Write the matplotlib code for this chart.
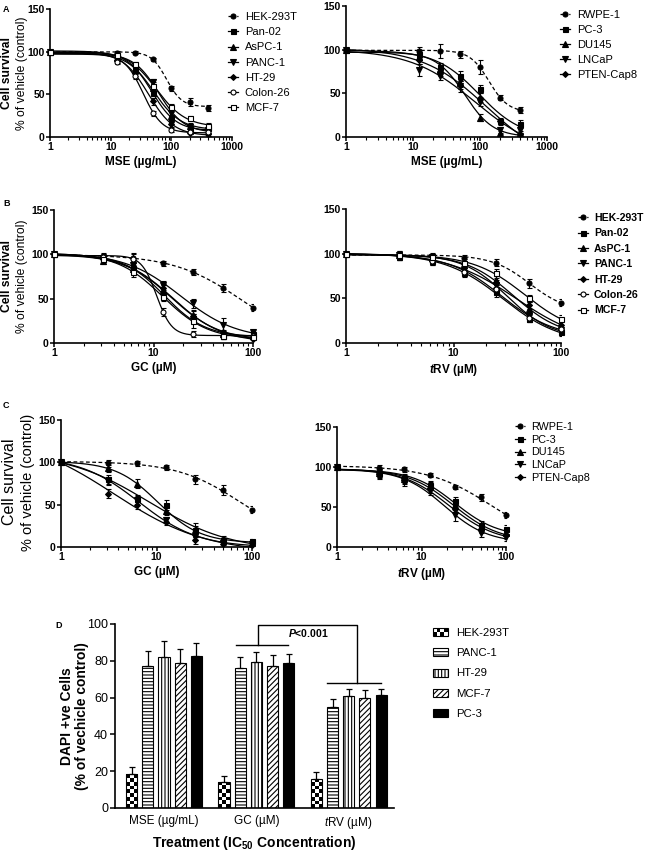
import numpy as np
import matplotlib
matplotlib.use('Agg')
import matplotlib.pyplot as plt
from matplotlib.lines import Line2D
from matplotlib.patches import Patch, Rectangle
from matplotlib.legend_handler import HandlerBase
from matplotlib.ticker import LogLocator, NullFormatter, FixedLocator, FixedFormatter

plt.rcParams.update({
    'font.family': ['Liberation Sans', 'DejaVu Sans'],
    'mathtext.fontset': 'custom',
    'mathtext.rm': 'Liberation Sans',
    'mathtext.it': 'Liberation Sans:italic',
    'mathtext.bf': 'Liberation Sans:bold',
    'mathtext.bfit': 'Liberation Sans:italic:bold',
    'hatch.linewidth': 0.8,
    'axes.linewidth': 1.2,
})

W, H = 650, 850

# ---------------- data ----------------
mse_doses = [1, 12.5, 25, 50, 100, 200, 400]
uM_doses = [1, 3.125, 6.25, 12.5, 25, 50, 100]

panc_lines = ['HEK-293T', 'Pan-02', 'AsPC-1', 'PANC-1', 'HT-29', 'Colon-26', 'MCF-7']
prost_lines = ['RWPE-1', 'PC-3', 'DU145', 'LNCaP', 'PTEN-Cap8']

# Panel A left: MSE on pancreatic/colon/breast lines
A1_mean = {
    'HEK-293T': [100, 99, 99, 91, 57, 41, 34],
    'Pan-02':   [100, 95, 80, 52, 22, 10, 10],
    'AsPC-1':   [100, 92, 78, 58, 25, 13, 12],
    'PANC-1':   [100, 94, 83, 65, 28, 12, 8],
    'HT-29':    [100, 90, 75, 42, 15, 5, 3],
    'Colon-26': [100, 88, 72, 28, 8, 6, 6],
    'MCF-7':    [100, 96, 85, 60, 35, 22, 13],
}
A1_err = {
    'HEK-293T': [0, 2, 2, 2, 3, 5, 4],
    'Pan-02':   [0, 3, 4, 4, 4, 3, 3],
    'AsPC-1':   [0, 3, 4, 4, 4, 3, 3],
    'PANC-1':   [0, 3, 3, 3, 4, 3, 3],
    'HT-29':    [0, 3, 4, 4, 3, 2, 2],
    'Colon-26': [0, 3, 4, 3, 2, 2, 2],
    'MCF-7':    [0, 3, 3, 4, 4, 3, 3],
}
# Panel A right: MSE on prostate lines
A2_mean = {
    'RWPE-1':    [100, 99, 99, 95, 80, 45, 31],
    'PC-3':      [100, 95, 80, 70, 55, 18, 15],
    'DU145':     [100, 92, 78, 62, 22, 5, 5],
    'LNCaP':     [100, 77, 70, 58, 40, 8, 8],
    'PTEN-Cap8': [100, 88, 75, 60, 45, 18, 3],
}
A2_err = {
    'RWPE-1':    [0, 4, 8, 4, 8, 3, 3],
    'PC-3':      [0, 5, 5, 6, 5, 4, 5],
    'DU145':     [0, 3, 4, 5, 4, 2, 2],
    'LNCaP':     [0, 7, 5, 6, 5, 3, 3],
    'PTEN-Cap8': [0, 4, 5, 5, 5, 3, 2],
}
# Panel B left: GC
B1_mean = {
    'HEK-293T': [100, 97, 96, 90, 80, 62, 40],
    'Pan-02':   [100, 95, 85, 53, 28, 8, 10],
    'AsPC-1':   [100, 93, 83, 60, 32, 10, 8],
    'PANC-1':   [100, 96, 88, 65, 45, 20, 12],
    'HT-29':    [100, 95, 82, 62, 30, 12, 5],
    'Colon-26': [100, 97, 95, 35, 10, 8, 8],
    'MCF-7':    [100, 95, 80, 52, 25, 8, 7],
}
B1_err = {
    'HEK-293T': [0, 3, 5, 3, 3, 5, 4],
    'Pan-02':   [0, 4, 5, 5, 5, 3, 3],
    'AsPC-1':   [0, 4, 5, 5, 5, 3, 3],
    'PANC-1':   [0, 4, 5, 5, 5, 8, 3],
    'HT-29':    [0, 4, 5, 5, 6, 3, 2],
    'Colon-26': [0, 4, 5, 5, 3, 2, 2],
    'MCF-7':    [0, 4, 6, 5, 8, 3, 2],
}
# Panel B right: tRV
B2_mean = {
    'HEK-293T': [100, 99, 97, 95, 90, 67, 45],
    'Pan-02':   [100, 97, 92, 78, 57, 27, 12],
    'AsPC-1':   [100, 98, 95, 88, 70, 38, 18],
    'PANC-1':   [100, 98, 96, 86, 65, 30, 14],
    'HT-29':    [100, 97, 93, 84, 62, 42, 20],
    'Colon-26': [100, 98, 92, 80, 60, 28, 16],
    'MCF-7':    [100, 98, 96, 90, 78, 50, 27],
}
B2_err = {
    'HEK-293T': [0, 3, 3, 3, 4, 5, 4],
    'Pan-02':   [0, 4, 5, 4, 5, 4, 4],
    'AsPC-1':   [0, 4, 5, 4, 5, 4, 4],
    'PANC-1':   [0, 5, 5, 4, 5, 4, 5],
    'HT-29':    [0, 4, 5, 4, 5, 4, 4],
    'Colon-26': [0, 4, 5, 4, 5, 4, 4],
    'MCF-7':    [0, 5, 4, 4, 5, 4, 4],
}
# Panel C left: GC on prostate lines
C1_mean = {
    'RWPE-1':    [100, 99, 99, 94, 80, 67, 44],
    'PC-3':      [100, 80, 57, 50, 20, 8, 7],
    'DU145':     [100, 93, 75, 43, 20, 10, 5],
    'LNCaP':     [100, 78, 55, 32, 12, 5, 3],
    'PTEN-Cap8': [100, 63, 50, 30, 8, 4, 2],
}
C1_err = {
    'RWPE-1':    [0, 4, 3, 3, 5, 6, 4],
    'PC-3':      [0, 5, 4, 6, 8, 3, 3],
    'DU145':     [0, 4, 5, 5, 5, 3, 2],
    'LNCaP':     [0, 5, 5, 4, 4, 2, 2],
    'PTEN-Cap8': [0, 5, 5, 4, 4, 2, 2],
}
# Panel C right: tRV on prostate lines
C2_mean = {
    'RWPE-1':    [100, 99, 97, 90, 75, 62, 40],
    'PC-3':      [100, 93, 86, 78, 58, 28, 22],
    'DU145':     [100, 92, 85, 76, 52, 25, 17],
    'LNCaP':     [100, 90, 82, 70, 40, 17, 12],
    'PTEN-Cap8': [100, 91, 84, 72, 47, 22, 15],
}
C2_err = {
    'RWPE-1':    [0, 3, 3, 3, 3, 4, 4],
    'PC-3':      [0, 5, 5, 5, 5, 5, 5],
    'DU145':     [0, 5, 5, 5, 5, 5, 5],
    'LNCaP':     [0, 5, 6, 5, 8, 5, 5],
    'PTEN-Cap8': [0, 5, 5, 5, 5, 5, 5],
}

# Panel D: DAPI +ve cells
D_groups = ['MSE (µg/mL)', 'GC (µM)', r'$\mathit{t}$RV (µM)']
D_cells = ['HEK-293T', 'PANC-1', 'HT-29', 'MCF-7', 'PC-3']
D_hek = [18.7, 14.3, 16.0]
D_panc1 = [77.0, 76.0, 55.0]
D_ht29 = [82.0, 79.3, 60.8]
D_mcf7 = [79.0, 77.1, 59.9]
D_pc3 = [82.8, 78.6, 61.2]
D_hek_err = [3.7, 3.3, 3.6]
D_panc1_err = [8.5, 5.8, 4.0]
D_ht29_err = [8.5, 5.5, 4.0]
D_mcf7_err = [7.5, 6.0, 4.0]
D_pc3_err = [7.0, 5.0, 3.5]

# marker styles: (marker, filled, dashed)
styles = {
    'HEK-293T': ('o', True, True), 'Pan-02': ('s', True, False), 'AsPC-1': ('^', True, False),
    'PANC-1': ('v', True, False), 'HT-29': ('D', True, False), 'Colon-26': ('o', False, False),
    'MCF-7': ('s', False, False),
    'RWPE-1': ('o', True, True), 'PC-3': ('s', True, False), 'DU145': ('^', True, False),
    'LNCaP': ('v', True, False), 'PTEN-Cap8': ('D', True, False),
}
msize = {'o': 3.6, 's': 3.6, '^': 4.0, 'v': 4.0, 'D': 3.0}


# ---------------- helpers ----------------
def fit_curve(x, y, xfine):
    lx = np.log10(np.asarray(x, float))
    y = np.asarray(y, float)
    c = np.linspace(lx.min(), lx.max() + 0.6, 301)[:, None, None]
    h = np.linspace(0.3, 10, 195)[None, :, None]
    f = 1.0 / (1.0 + 10 ** ((lx[None, None, :] - c) * h))
    u, v = 1 - f, f
    uu = (u * u).sum(-1); vv = (v * v).sum(-1); uv = (u * v).sum(-1)
    uy = (u * y).sum(-1); vy = (v * y).sum(-1)
    det = uu * vv - uv ** 2
    det = np.where(np.abs(det) < 1e-9, np.nan, det)
    b = (uy * vv - vy * uv) / det
    t = (vy * uu - uy * uv) / det
    pred = b[..., None] * u + t[..., None] * v
    sse = ((pred - y) ** 2).sum(-1)
    sse = np.where(np.isnan(sse), np.inf, sse)
    i, j = np.unravel_index(np.argmin(sse), sse.shape)
    ff = 1.0 / (1.0 + 10 ** ((np.log10(xfine) - c[i, 0, 0]) * h[0, j, 0]))
    return b[i, j] + (t[i, j] - b[i, j]) * ff


fig = plt.figure(figsize=(W / 100, H / 100), dpi=100)


def add_ax(l, t, r, b):
    return fig.add_axes([l / W, 1 - b / H, (r - l) / W, (b - t) / H])


def fx(x):
    return x / W


def fy(y):
    return 1 - y / H


def curve_panel(rect, doses, means, errs, names, xmax, xticks, xlabel, tick_fs=7.5):
    ax = add_ax(*rect)
    xf = np.logspace(0, np.log10(max(doses)), 300)
    for name in names:
        mk, filled, dashed = styles[name]
        m = means[name]
        ax.plot(xf, fit_curve(doses, m, xf), color='k', lw=0.9,
                ls=(0, (3, 2)) if dashed else '-', zorder=2)
        ax.errorbar(doses, m, yerr=errs[name], fmt='none', ecolor='k',
                    elinewidth=0.8, capsize=1.8, capthick=0.8, zorder=3)
        ax.plot(doses, m, ls='none', marker=mk, ms=msize[mk],
                mfc='k' if filled else 'white', mec='k', mew=0.8, zorder=4, clip_on=False)
    ax.set_xscale('log')
    ax.set_xlim(1, xmax)
    ax.set_ylim(0, 150)
    for s in ('top', 'right'):
        ax.spines[s].set_visible(False)
    ax.xaxis.set_major_locator(FixedLocator(xticks))
    ax.xaxis.set_major_formatter(FixedFormatter([str(int(v)) for v in xticks]))
    ax.xaxis.set_minor_locator(LogLocator(base=10, subs=np.arange(2, 10), numticks=20))
    ax.xaxis.set_minor_formatter(NullFormatter())
    ax.set_yticks([0, 50, 100, 150])
    ax.tick_params(axis='both', which='major', direction='out', length=2.8, width=1.1,
                   labelsize=tick_fs, pad=1.0)
    ax.tick_params(axis='x', which='minor', direction='out', length=2, width=0.8)
    for lb in ax.get_xticklabels() + ax.get_yticklabels():
        lb.set_fontweight('bold')
    ax.set_xlabel(xlabel, fontsize=8.5, fontweight='bold', labelpad=3)
    return ax


def curve_legend(ax, names, x_px, ytop_px, fs, spacing, bold, hl=0.9, tp=0.6):
    handles = []
    for name in names:
        mk, filled, dashed = styles[name]
        handles.append(Line2D([], [], color='k', lw=0.9, ls=(0, (2, 1.5)) if dashed else '-',
                              marker=mk, ms=msize[mk], mfc='k' if filled else 'white',
                              mec='k', mew=0.8))
    leg = ax.legend(handles, names, loc='upper left', bbox_to_anchor=(fx(x_px), fy(ytop_px)),
                    bbox_transform=fig.transFigure, frameon=False, borderpad=0, borderaxespad=0,
                    handlelength=hl, handletextpad=tp, labelspacing=spacing, numpoints=1,
                    prop={'size': fs, 'weight': 'bold' if bold else 'normal'})
    return leg


class CheckerHandler(HandlerBase):
    def create_artists(self, legend, orig_handle, xdescent, ydescent, width, height,
                       fontsize, trans):
        arts = []
        nx, ny = 4, 2
        w, h = width / nx, height / ny
        for i in range(nx):
            for j in range(ny):
                if (i + j) % 2 == 0:
                    arts.append(Rectangle((-xdescent + i * w, -ydescent + j * h), w, h,
                                          facecolor='k', edgecolor='none', transform=trans))
        arts.append(Rectangle((-xdescent, -ydescent), width, height, facecolor='none',
                              edgecolor='k', lw=0.8, transform=trans))
        return arts


# ---------------- Panel A ----------------
axA1 = curve_panel((50, 9, 232, 137), mse_doses, A1_mean, A1_err, panc_lines, 1000,
                   [1, 10, 100, 1000], 'MSE (µg/mL)')
curve_legend(axA1, panc_lines, 228, 12, 8, 0.47, False)
axA2 = curve_panel((346, 6, 547, 137), mse_doses, A2_mean, A2_err, prost_lines, 1000,
                   [1, 10, 100, 1000], 'MSE (µg/mL)')
curve_legend(axA2, prost_lines, 560, 10, 8, 0.45, False)

fig.text(fx(3), fy(9), 'A', fontsize=6.5, fontweight='bold', va='center', ha='left')
fig.text(fx(7), fy(73), 'Cell survival', rotation=90, fontsize=8.7, fontweight='bold',
         ha='center', va='center')
fig.text(fx(21.5), fy(73), '% of vehicle (control)', rotation=90, fontsize=8.7,
         ha='center', va='center')

# ---------------- Panel B ----------------
axB1 = curve_panel((54, 210, 253, 343), uM_doses, B1_mean, B1_err, panc_lines, 100,
                   [1, 10, 100], 'GC (µM)')
axB2 = curve_panel((346, 209, 561, 343), uM_doses, B2_mean, B2_err, panc_lines, 100,
                   [1, 10, 100], r'$\mathbfit{t}$RV (µM)')
curve_legend(axB2, panc_lines, 578, 213, 7.6, 0.51, True)

fig.text(fx(3), fy(204), 'B', fontsize=6.5, fontweight='bold', va='center', ha='left')
fig.text(fx(7), fy(276), 'Cell survival', rotation=90, fontsize=8.7, fontweight='bold',
         ha='center', va='center')
fig.text(fx(22), fy(276), '% of vehicle (control)', rotation=90, fontsize=8.7,
         ha='center', va='center')

# ---------------- Panel C ----------------
axC1 = curve_panel((61, 420, 252, 547), uM_doses, C1_mean, C1_err, prost_lines, 100,
                   [1, 10, 100], 'GC (µM)')
axC2 = curve_panel((337, 427, 506, 547), uM_doses, C2_mean, C2_err, prost_lines, 100,
                   [1, 10, 100], r'$\mathbfit{t}$RV (µM)')
curve_legend(axC2, prost_lines, 515, 422, 7.8, 0.25, False)

fig.text(fx(3), fy(405), 'C', fontsize=6.5, fontweight='bold', va='center', ha='left')
fig.text(fx(10), fy(482), 'Cell survival', rotation=90, fontsize=11.5,
         ha='center', va='center')
fig.text(fx(28), fy(482), '% of vehicle (control)', rotation=90, fontsize=10.5,
         ha='center', va='center')

# ---------------- Panel D ----------------
axD = add_ax(115, 624, 394, 808)
x = np.arange(len(D_groups))
step, bw = 0.175, 0.12
series = [(D_hek, D_hek_err, None),
          (D_panc1, D_panc1_err, dict(facecolor='white', hatch='-----')),
          (D_ht29, D_ht29_err, dict(facecolor='white', hatch='|||||')),
          (D_mcf7, D_mcf7_err, dict(facecolor='white', hatch='//////')),
          (D_pc3, D_pc3_err, dict(facecolor='black', hatch=None))]
handles = []
for k, (vals, errs, st) in enumerate(series):
    pos = x + (k - 2) * step
    if st is None:
        bars = axD.bar(pos, vals, width=bw, facecolor='none', edgecolor='black',
                       linewidth=0.8, zorder=2.2)
        for p, v, rect in zip(pos, vals, bars.patches):
            nrow = int(np.ceil(v / 2.0))
            board = np.add.outer(np.arange(nrow), np.arange(3)) % 2
            im = axD.imshow(board, cmap='gray', vmin=0, vmax=1, origin='lower',
                            extent=(p - bw / 2, p + bw / 2, 0, nrow * 2.0), aspect='auto',
                            interpolation='nearest', zorder=2.1)
            im.set_clip_path(rect)
        handles.append(Patch(facecolor='white', edgecolor='black'))
    else:
        axD.bar(pos, vals, width=bw, edgecolor='black', linewidth=0.8, **st, zorder=2)
        handles.append(Patch(edgecolor='black', linewidth=0.8, **st))
    axD.errorbar(pos, vals, yerr=[np.zeros(len(vals)), errs], fmt='none', ecolor='k',
                 elinewidth=0.9, capsize=2.2, capthick=0.9, zorder=3)
axD.set_xlim(-0.53, 2.49)
axD.set_ylim(0, 100)
for s in ('top', 'right'):
    axD.spines[s].set_visible(False)
axD.set_yticks(np.arange(0, 101, 20))
axD.set_xticks(x)
axD.set_xticklabels(D_groups, fontsize=8.5)
axD.tick_params(axis='y', direction='out', length=3.5, width=1.1, labelsize=9, pad=1.5)
axD.tick_params(axis='x', length=0, pad=5)
axD.set_xlabel(r'Treatment (IC$\mathbf{_{50}}$ Concentration)', fontsize=10, fontweight='bold',
               labelpad=2)

# significance bracket
bk = dict(color='k', lw=1.0, clip_on=False)
axD.plot([1.016, 1.016, 2.09, 2.09], [88.6, 99.6, 99.6, 68.0], **bk)
axD.plot([0.78, 1.34], [88.6, 88.6], **bk)
axD.plot([1.77, 2.35], [68.0, 68.0], **bk)
axD.text(1.56, 95.1, r'$\mathbfit{P}$<0.001', fontsize=7.5, fontweight='bold',
         ha='center', va='center')

axD.legend(handles, D_cells, loc='upper left', bbox_to_anchor=(fx(433), fy(628)),
           bbox_transform=fig.transFigure, frameon=False, borderpad=0, borderaxespad=0,
           handlelength=1.3, handleheight=0.7, handletextpad=0.7, labelspacing=0.9,
           prop={'size': 8.2}, handler_map={handles[0]: CheckerHandler()})

fig.text(fx(59), fy(625), 'D', fontsize=6.5, fontweight='bold', va='center', ha='center')
fig.text(fx(67), fy(716), 'DAPI +ve Cells', rotation=90, fontsize=10, fontweight='bold',
         ha='center', va='center')
fig.text(fx(82), fy(716), '(% of vechicle control)', rotation=90, fontsize=10, fontweight='bold',
         ha='center', va='center')

fig.savefig('out.png', dpi=100)
